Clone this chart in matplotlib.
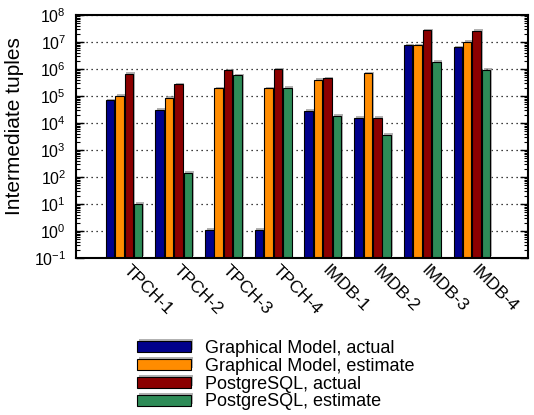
import numpy as np
import matplotlib
matplotlib.use('Agg')
import matplotlib.pyplot as plt
import matplotlib.patheffects as pe
import matplotlib.transforms as mtransforms
from matplotlib.ticker import LogLocator, NullFormatter

plt.rcParams['font.family'] = ['Liberation Sans', 'DejaVu Sans']

# Data
queries = ['TPCH-1', 'TPCH-2', 'TPCH-3', 'TPCH-4', 'IMDB-1', 'IMDB-2', 'IMDB-3', 'IMDB-4']
gm_actual = [7e4, 3e4, 1, 1, 2.9e4, 1.6e4, 7.5e6, 6.3e6]
gm_estimate = [1e5, 8.5e4, 1.9e5, 1.9e5, 3.9e5, 7e5, 7.5e6, 1e7]
pg_actual = [6.7e5, 2.7e5, 9e5, 9.7e5, 4.5e5, 1.6e4, 2.7e7, 2.6e7]
pg_estimate = [10, 140, 5.9e5, 2e5, 1.8e4, 3.6e3, 1.85e6, 9.2e5]

series = [
    ('Graphical Model, actual', gm_actual, '#00008b'),
    ('Graphical Model, estimate', gm_estimate, '#ff8c00'),
    ('PostgreSQL, actual', pg_actual, '#8b0000'),
    ('PostgreSQL, estimate', pg_estimate, '#2e8b57'),
]

fig = plt.figure(figsize=(5.34, 4.15), dpi=100)
ax = fig.add_axes([0.142, 0.378, 0.847, 0.586])

x = np.arange(len(queries))
slot = 0.19
width = 0.17
shadow = [pe.SimplePatchShadow(offset=(1.2, 1.2), shadow_rgbFace='0.5', alpha=0.6), pe.Normal()]
for i, (label, vals, color) in enumerate(series):
    bars = ax.bar(x + (i - 1.5) * slot, vals, width, bottom=0.1, color=color,
                  edgecolor='black', linewidth=0.8, label=label, zorder=3)
    for b in bars:
        b.set_path_effects(shadow)

ax.set_yscale('log')
ax.set_ylim(0.1, 1e8)
ax.set_xlim(-0.97, 8.13)
ax.yaxis.set_major_locator(LogLocator(base=10, numticks=20))
ax.yaxis.set_minor_locator(LogLocator(base=10, subs=np.arange(2, 10), numticks=20))
ax.yaxis.set_minor_formatter(NullFormatter())
ax.grid(axis='y', which='major', linestyle=(0, (1, 3)), color='black', linewidth=0.9, zorder=1)

ax.tick_params(axis='y', which='both', direction='in', right=True, labelsize=11.5, pad=7)
ax.tick_params(axis='y', which='major', length=6, width=1)
ax.tick_params(axis='y', which='minor', length=3, width=0.8)
ax.tick_params(axis='x', direction='in', length=6, width=1.5, top=False)
ax.set_xticks(x)
ax.set_xticklabels(queries, rotation=-45, ha='left', va='top', rotation_mode='anchor', fontsize=12.5)
shift = mtransforms.ScaledTranslation(7 / 100, 0, fig.dpi_scale_trans)
for lbl in ax.get_xticklabels():
    lbl.set_transform(lbl.get_transform() + shift)
for s in ax.spines.values():
    s.set_linewidth(1.5)
    s.set_zorder(5)

ax.set_ylabel('Intermediate tuples', fontsize=15)
ax.yaxis.set_label_coords(-0.114, 0.545)

fig.legend(loc='upper left', bbox_to_anchor=(0.24, 0.203), frameon=False, fontsize=13,
           handlelength=3.0, handleheight=0.55, handletextpad=0.75, labelspacing=0.05,
           borderpad=0)

fig.savefig('out.png', dpi=100)
